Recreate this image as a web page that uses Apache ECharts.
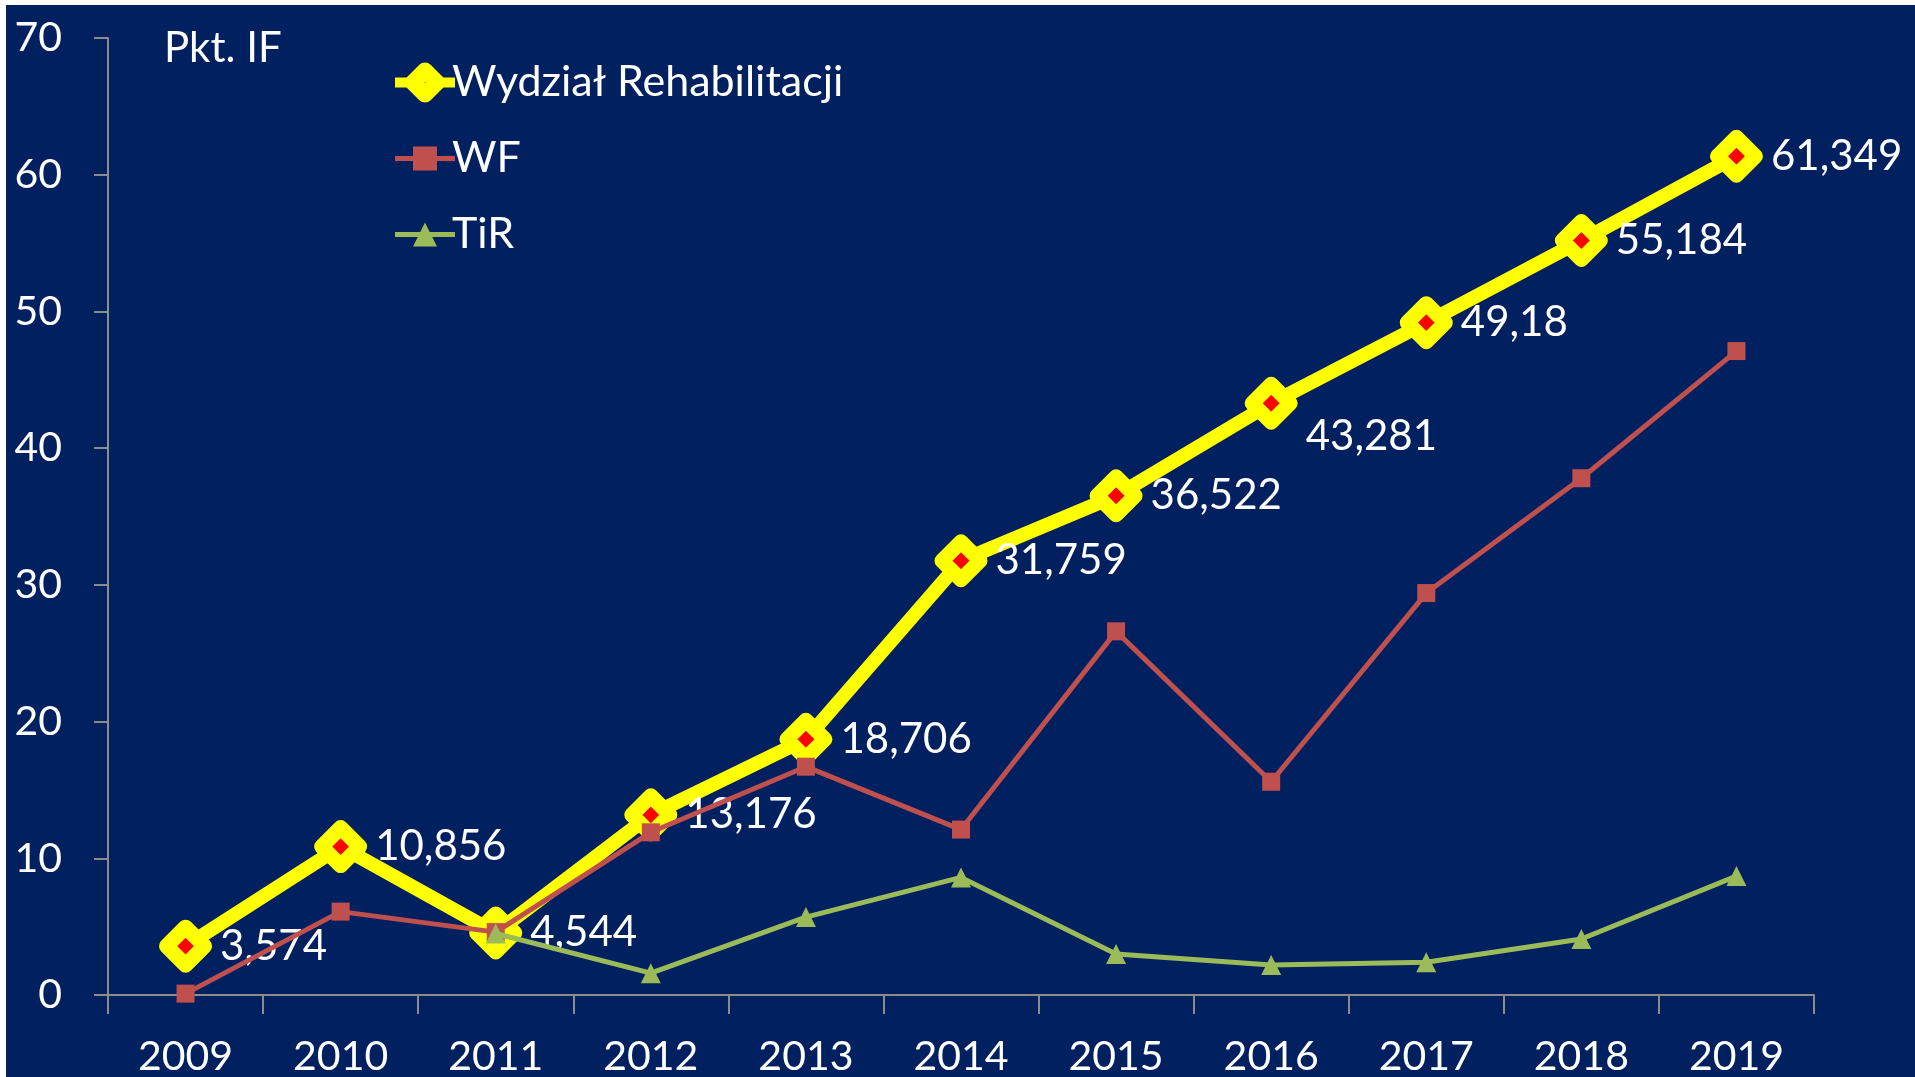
<!DOCTYPE html>
<html>
<head>
<meta charset="utf-8">
<script src="https://cdn.jsdelivr.net/npm/echarts@6/dist/echarts.min.js"></script>
<style>
    html, body { margin: 0; padding: 0; background: #ffffff; }
    #ifChartID { position: absolute; left: 6px; top: 5px; width: 1909px; height: 1072px; }
</style>
</head>
<body>
<div id="ifChartID"></div>
<script>
var years = ['2009', '2010', '2011', '2012', '2013', '2014', '2015', '2016', '2017', '2018', '2019'];
var rehabValues = [3.574, 10.856, 4.544, 13.176, 18.706, 31.759, 36.522, 43.281, 49.18, 55.184, 61.349];
var wfValues = [0.1, 6.1, 4.6, 11.9, 16.7, 12.1, 26.6, 15.6, 29.4, 37.8, 47.1];
var tirValues = [null, null, 4.5, 1.6, 5.7, 8.6, 3.0, 2.2, 2.4, 4.1, 8.7];
var yTicks = [0, 10, 20, 30, 40, 50, 60, 70];

var fontName = 'Lato';

var ifChart = echarts.init(document.getElementById('ifChartID'));

// 2016 label sits below its point in the original
var rehabData = rehabValues.map(function (v, i) {
    if (years[i] === '2016') {
        return { value: v, label: { offset: [0, 33] } };
    }
    return v;
});

var option_ifChart = {
    backgroundColor: '#002060',
    animation: false,
    title: {
        text: 'Pkt. IF',
        left: 153,
        top: 17,
        textStyle: {
            color: '#ffffff',
            fontFamily: fontName,
            fontWeight: 'normal',
            fontSize: 42
        }
    },
    legend: {
        orient: 'vertical',
        left: 379,
        top: 51,
        itemWidth: 60,
        itemHeight: 30,
        itemGap: 33,
        data: [
            { name: 'Wydział Rehabilitacji', itemStyle: { borderWidth: 16 }, lineStyle: { width: 10 } },
            { name: 'WF', lineStyle: { width: 5 } },
            { name: 'TiR', lineStyle: { width: 5 } }
        ],
        textStyle: {
            color: '#ffffff',
            fontFamily: fontName,
            fontSize: 43,
            lineHeight: 41,
            padding: [0, 0, 0, -8]
        }
    },
    grid: {
        left: 102,
        right: 101,
        top: 33,
        bottom: 80
    },
    xAxis: {
        type: 'category',
        boundaryGap: true,
        data: years,
        axisLine: { lineStyle: { color: '#8c8c8c', width: 2 } },
        axisTick: { show: true, length: 19, lineStyle: { color: '#8c8c8c', width: 2 } },
        axisLabel: {
            color: '#ffffff',
            fontFamily: fontName,
            fontSize: 41,
            margin: 41
        }
    },
    yAxis: {
        type: 'value',
        min: yTicks[0],
        max: yTicks[yTicks.length - 1],
        interval: 10,
        splitLine: { show: false },
        axisLine: { show: true, lineStyle: { color: '#8c8c8c', width: 2 } },
        axisTick: { show: true, length: 14, lineStyle: { color: '#8c8c8c', width: 2 } },
        axisLabel: {
            color: '#ffffff',
            fontFamily: fontName,
            fontSize: 41,
            margin: 46
        }
    },
    series: [
        {
            name: 'Wydział Rehabilitacji',
            type: 'line',
            data: rehabData,
            symbol: 'diamond',
            symbolSize: 38,
            lineStyle: { color: '#ffff00', width: 14 },
            itemStyle: {
                color: '#ff0000',
                borderColor: '#ffff00',
                borderWidth: 15,
                borderJoin: 'round'
            },
            label: {
                show: true,
                position: 'right',
                distance: 8,
                color: '#ffffff',
                fontFamily: fontName,
                fontSize: 42,
                formatter: function (p) {
                    return String(p.value).replace('.', ',');
                }
            },
            z: 2
        },
        {
            name: 'WF',
            type: 'line',
            data: wfValues,
            symbol: 'rect',
            symbolSize: 18,
            lineStyle: { color: '#c0504d', width: 5 },
            itemStyle: { color: '#c0504d' },
            z: 3
        },
        {
            name: 'TiR',
            type: 'line',
            data: tirValues,
            symbol: 'triangle',
            symbolSize: 20,
            lineStyle: { color: '#9bbb59', width: 5 },
            itemStyle: { color: '#9bbb59' },
            z: 4
        }
    ]
};

option_ifChart && ifChart.setOption(option_ifChart);
</script>
</body>
</html>
